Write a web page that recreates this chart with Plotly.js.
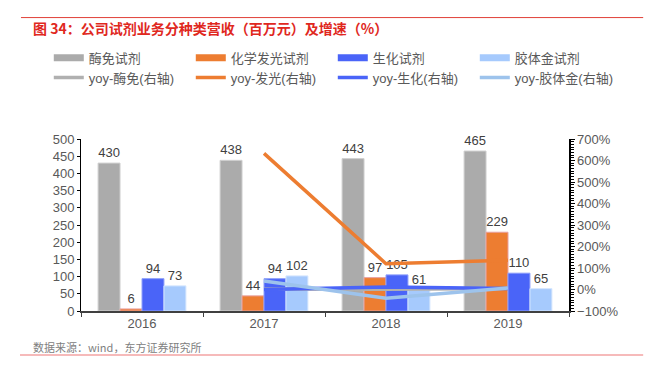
<!DOCTYPE html>
<html>
<head>
<meta charset="utf-8">
<script src="https://cdn.plot.ly/plotly-3.0.1.min.js"></script>
<style>html,body{margin:0;padding:0;background:#fff;}#chart{width:649px;height:366px;}</style>
</head>
<body>
<div id="chart"></div>
<script>
const years = ['2016', '2017', '2018', '2019'];
const enzyme = [430, 438, 443, 465];
const chemi = [6, 44, 97, 229];
const biochem = [94, 94, 105, 110];
const gold = [73, 102, 61, 65];
const yoyEnzyme = [null, 1.9, 1.1, 5.0];
const yoyChemi = [null, 633, 120, 136];
const yoyBiochem = [null, 0, 11.7, 4.8];
const yoyGold = [null, 39.7, -40.2, 6.6];

const barNames = ['酶免试剂', '化学发光试剂', '生化试剂', '胶体金试剂'];
const lineNames = ['yoy-酶免(右轴)', 'yoy-发光(右轴)', 'yoy-生化(右轴)', 'yoy-胶体金(右轴)'];
const barColors = ['#ABABAB', '#ED7D31', '#4A64F8', '#A6CAFD'];
const barLines = ['#D0D0D0', '#E8A0A0', '#8FA0FA', '#D5E6FE'];
const lineColors = ['#B0B0B0', '#ED7D31', '#4A64F8', '#9DC3EC'];

const font = "'Liberation Sans', 'Noto Sans CJK SC', sans-serif";
const barData = [enzyme, chemi, biochem, gold];
const yoyData = [yoyEnzyme, yoyChemi, yoyBiochem, yoyGold];

const traces = [];
barData.forEach((vals, i) => {
  traces.push({
    type: 'bar', x: years, y: vals, name: barNames[i], showlegend: false,
    legendgroup: 'b' + i,
    marker: {color: barColors[i], line: {color: barLines[i], width: 1}},
    text: vals.map(String), textposition: 'outside', cliponaxis: false,
    textfont: {size: 13, color: '#404040', family: font},
    yaxis: 'y', hoverinfo: 'skip'
  });
});
// legend-only entries giving the wide rectangular swatches of the bar series
barNames.forEach((nm, i) => {
  traces.push({
    type: 'scatter', mode: 'lines', x: [null], y: [null], name: nm, legendgroup: 'b' + i,
    line: {color: barColors[i], width: 7}, yaxis: 'y', hoverinfo: 'skip'
  });
});
yoyData.forEach((vals, i) => {
  traces.push({
    type: 'scatter', mode: 'lines', x: years, y: vals, name: lineNames[i],
    line: {color: lineColors[i], width: 3.5}, yaxis: 'y2', hoverinfo: 'skip'
  });
});

const layout = {
  width: 649, height: 366,
  margin: {l: 81, r: 80, t: 139, b: 55},
  paper_bgcolor: '#fff', plot_bgcolor: '#fff',
  font: {family: font, color: '#595959', size: 13},
  barmode: 'group', bargap: 0.28, bargroupgap: 0,
  showlegend: true,
  legend: {
    orientation: 'h', x: -0.066, xanchor: 'left', y: 1.56, yanchor: 'top',
    entrywidth: 97, entrywidthmode: 'pixels', itemwidth: 30,
    font: {size: 13, color: '#595959', family: font}, tracegroupgap: 0,
    bgcolor: 'rgba(0,0,0,0)'
  },
  xaxis: {
    type: 'category', tickson: 'boundaries', ticks: 'outside', ticklen: 4,
    tickcolor: '#404040', showline: true, linecolor: '#404040', linewidth: 1.5,
    showgrid: false, tickfont: {size: 13, color: '#595959'}, fixedrange: true
  },
  yaxis: {
    range: [0, 500], dtick: 50, showgrid: false, zeroline: false,
    showline: true, linecolor: '#000', linewidth: 1, ticks: 'outside', ticklen: 3,
    tickcolor: '#000', tickfont: {size: 13, color: '#595959'}
  },
  yaxis2: {
    overlaying: 'y', side: 'right', range: [-100, 700], dtick: 100, ticksuffix: '%',
    showgrid: false, zeroline: false, showline: true, linecolor: '#000', linewidth: 1.5,
    ticks: 'outside', ticklen: 4, tickcolor: '#000',
    minor: {dtick: 12.5, ticks: 'outside', ticklen: 3, tickcolor: '#000'},
    tickfont: {size: 13, color: '#595959'}
  },
  shapes: [
    {type: 'line', xref: 'paper', yref: 'paper', x0: -0.123, x1: 1.152, y0: 1.706, y1: 1.706,
     line: {color: '#E04038', width: 1}},
    {type: 'line', xref: 'paper', yref: 'paper', x0: -0.125, x1: 1.152, y0: -0.256, y1: -0.256,
     line: {color: '#F3A3A3', width: 1.5}}
  ],
  annotations: [
    {text: '图 34：公司试剂业务分种类营收（百万元）及增速（%）', xref: 'paper', yref: 'paper',
     x: -0.103, y: 1.645, xanchor: 'left', yanchor: 'middle', showarrow: false,
     font: {size: 14, color: '#E0281E', family: "'Noto Sans CJK SC', sans-serif", weight: 'bold'}},
    {text: '数据来源：wind，东方证券研究所', xref: 'paper', yref: 'paper',
     x: -0.103, y: -0.21, xanchor: 'left', yanchor: 'middle', showarrow: false,
     font: {size: 11, color: '#808080', family: "'Noto Sans CJK SC', sans-serif"}}
  ]
};

Plotly.newPlot('chart', traces, layout, {displayModeBar: false, staticPlot: true});
</script>
</body>
</html>
